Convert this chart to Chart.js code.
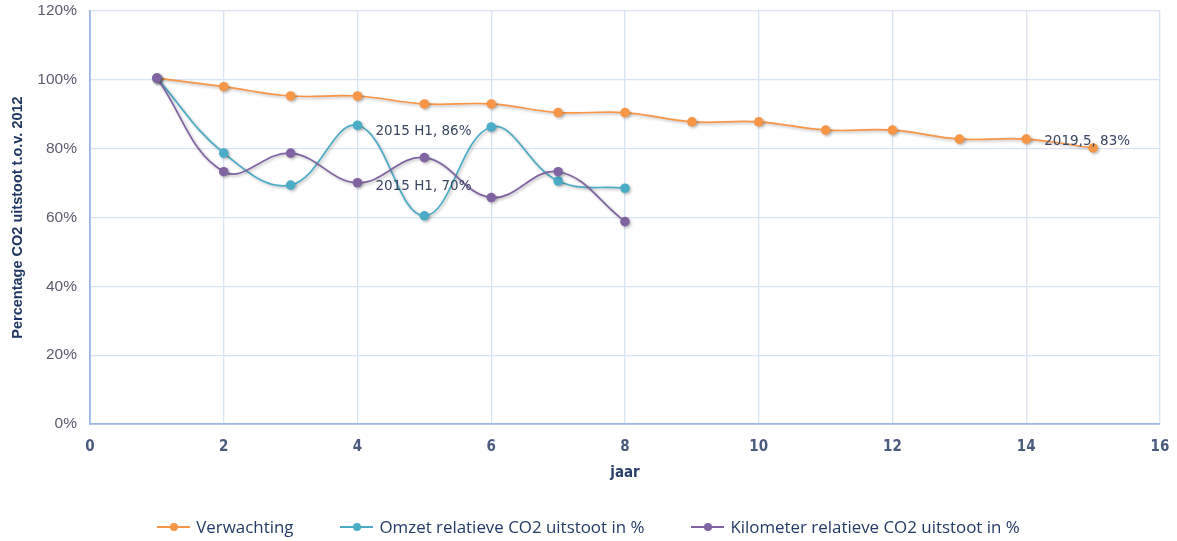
<!DOCTYPE html>
<html>
<head>
<meta charset="utf-8">
<script src="https://cdn.jsdelivr.net/npm/chart.js@4/dist/chart.umd.min.js"></script>
<style>
  html, body { margin: 0; padding: 0; background: #fff; }
  #wrap { position: relative; width: 1177px; height: 541px; }
  #legend {
    position: absolute; left: 0; top: 515px; width: 1177px;
    display: flex; justify-content: center; gap: 47px;
    font-family: 'Open Sans', sans-serif; font-size: 16.9px; color: #233a66;
  }
  .item { display: flex; align-items: center; }
  .mark { position: relative; width: 33px; height: 20px; margin-right: 6px; }
  .mark .ln { position: absolute; left: 0; right: 0; top: 9px; height: 2px; }
  .mark .dot { position: absolute; left: 13px; top: 6px; width: 8px; height: 8px; border-radius: 50%; }
</style>
</head>
<body>
<div id="wrap">
  <canvas id="chart" width="1177" height="541"></canvas>
  <div id="legend"></div>
</div>
<script>
const names = ['Verwachting', 'Omzet relatieve CO2 uitstoot in %', 'Kilometer relatieve CO2 uitstoot in %'];
const colors = ['#f79646', '#4bacc6', '#8064a2'];

const jaarVerwachting = [1, 2, 3, 4, 5, 6, 7, 8, 9, 10, 11, 12, 13, 14, 15];
const verwachting = [100.5, 98, 95.3, 95.3, 93, 93, 90.5, 90.5, 87.8, 87.8, 85.4, 85.4, 82.8, 82.8, 80.2];

const jaarMeting = [1, 2, 3, 4, 5, 6, 7, 8];
const omzet = [100.5, 78.7, 69.4, 86.8, 60.5, 86.3, 70.6, 68.5];
const kilometer = [100.5, 73.3, 78.7, 70.1, 77.4, 65.8, 73.3, 58.8];

const labelX = [4, 4, 14];
const labelY = [86, 70, 83];
const labelText = ['2015 H1, 86%', '2015 H1, 70%', '2019,5, 83%'];

function pts(xs, ys) {
  return xs.map((x, i) => ({ x: x, y: ys[i] }));
}

function series(i, data, order) {
  return {
    label: names[i],
    data: data,
    borderColor: colors[i],
    backgroundColor: colors[i],
    pointBackgroundColor: colors[i],
    pointBorderColor: colors[i],
    pointRadius: 4.8,
    pointBorderWidth: 0,
    borderWidth: 1.7,
    tension: 0.4,
    order: order,
  };
}

// legend below the chart
const legend = document.getElementById('legend');
names.forEach((n, i) => {
  const it = document.createElement('div');
  it.className = 'item';
  it.innerHTML = '<span class="mark"><span class="ln" style="background:' + colors[i] +
    '"></span><span class="dot" style="background:' + colors[i] + '"></span></span>' + n;
  legend.appendChild(it);
});

const shadow = {
  id: 'shadow',
  beforeDatasetsDraw(chart) {
    const ctx = chart.ctx;
    ctx.save();
    ctx.shadowColor = 'rgba(0,0,0,0.28)';
    ctx.shadowBlur = 3;
    ctx.shadowOffsetX = 1.5;
    ctx.shadowOffsetY = 1.5;
  },
  afterDatasetsDraw(chart) {
    chart.ctx.restore();
  }
};

const dataLabels = {
  id: 'dataLabels',
  afterDatasetsDraw(chart) {
    const ctx = chart.ctx;
    const xs = chart.scales.x, ys = chart.scales.y;
    ctx.save();
    ctx.font = '13.5px "DejaVu Sans", sans-serif';
    ctx.fillStyle = '#3a4662';
    ctx.textAlign = 'left';
    ctx.textBaseline = 'middle';
    labelText.forEach((t, i) => {
      ctx.fillText(t, xs.getPixelForValue(labelX[i]) + 18, ys.getPixelForValue(labelY[i]) + 3);
    });
    ctx.restore();
  }
};

const narrow = '"Liberation Sans Narrow", "DejaVu Sans Condensed", sans-serif';

new Chart(document.getElementById('chart'), {
  type: 'line',
  data: {
    datasets: [
      series(0, pts(jaarVerwachting, verwachting), 2),
      series(1, pts(jaarMeting, omzet), 1),
      series(2, pts(jaarMeting, kilometer), 0),
    ],
  },
  options: {
    responsive: false,
    animation: false,
    layout: { padding: { top: 11, right: 17, bottom: 55, left: 0 } },
    plugins: {
      legend: { display: false },
      tooltip: { enabled: false },
    },
    scales: {
      x: {
        type: 'linear',
        min: 0,
        max: 16,
        afterFit(s) { s.height = 62; s.paddingLeft = 0; s.paddingRight = 0; },
        ticks: {
          stepSize: 2,
          padding: 14,
          color: '#4b5b7e',
          font: { family: narrow, size: 15, weight: 'bold' },
        },
        grid: { color: '#d8e4f4', lineWidth: 1.3, drawTicks: false },
        border: { color: '#9db8e2', width: 1.8 },
        title: {
          display: true,
          text: 'jaar',
          color: '#2a3f6e',
          padding: { top: 4, bottom: 4 },
          font: { family: narrow, size: 15, weight: 'bold' },
        },
      },
      y: {
        min: 0,
        max: 120,
        afterFit(s) { s.width = 90; s.paddingTop = 0; s.paddingBottom = 0; },
        ticks: {
          stepSize: 20,
          padding: 13,
          color: '#5b5d70',
          font: { family: '"Liberation Sans", sans-serif', size: 15.5 },
          callback: (v) => v + '%',
        },
        grid: { color: '#d8e4f4', lineWidth: 1.3, drawTicks: false },
        border: { color: '#9db8e2', width: 1.8 },
        title: {
          display: true,
          text: 'Percentage CO2 uitstoot t.o.v. 2012',
          color: '#1f3563',
          padding: { top: 9, bottom: 0 },
          font: { family: '"Liberation Sans", sans-serif', size: 14.5, weight: 'bold' },
        },
      },
    },
  },
  plugins: [shadow, dataLabels],
});
</script>
</body>
</html>
